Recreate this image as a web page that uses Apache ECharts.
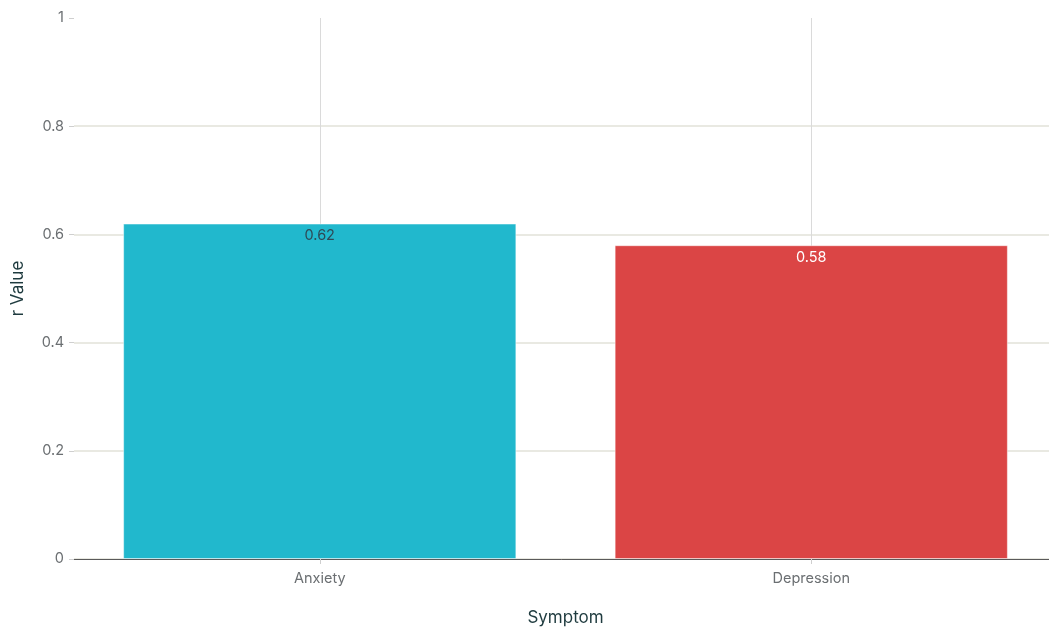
<!DOCTYPE html>
<html>
<head>
<meta charset="utf-8">
<script src="https://cdn.jsdelivr.net/npm/echarts@6/dist/echarts.min.js"></script>
<style>
  html, body { margin: 0; padding: 0; background: #ffffff; }
  #chart { width: 1049px; height: 628px; }
</style>
</head>
<body>
<div id="chart"></div>
<script>
// Correlation of each symptom (r value)
const symptoms = ['Anxiety', 'Depression'];
const rValues = [0.62, 0.58];
const barColors = ['#21B8CD', '#DB4545'];
const labelColors = ['#2E4A57', '#ffffff'];

const chart = echarts.init(document.getElementById('chart'));

chart.setOption({
  animation: false,
  textStyle: { fontFamily: 'Inter, "Noto Sans", sans-serif' },
  grid: { left: 74, right: -8, top: 18, bottom: 69, containLabel: false, outerBoundsMode: 'none' },
  xAxis: {
    type: 'category',
    data: symptoms,
    name: 'Symptom',
    nameLocation: 'middle',
    nameGap: 50,
    nameTextStyle: { color: '#1F3B3F', fontSize: 17 },
    axisLine: { show: true, lineStyle: { color: '#5a5a5a', width: 1 } },
    axisTick: { show: true, alignWithLabel: true, length: 5, lineStyle: { color: '#cfcfcf' } },
    axisLabel: { color: '#6b6f72', fontSize: 14.5, margin: 12 },
    splitLine: { show: true, alignWithLabel: true, lineStyle: { color: '#dadada', width: 1 } }
  },
  yAxis: {
    type: 'value',
    min: 0,
    max: 1,
    interval: 0.2,
    name: 'r Value',
    nameLocation: 'middle',
    nameGap: 48,
    nameTextStyle: { color: '#1F3B3F', fontSize: 17 },
    axisLine: { show: false },
    axisTick: { show: true, length: 5, lineStyle: { color: '#cfcfcf' } },
    axisLabel: { color: '#6b6f72', fontSize: 14.5, margin: 10 },
    splitLine: {
      show: true,
      lineStyle: {
        color: ['#e2e2d8', '#e2e2d8', '#e2e2d8', '#e2e2d8', '#e2e2d8', 'rgba(0,0,0,0)'],
        width: 1.5
      }
    }
  },
  series: [{
    type: 'bar',
    barCategoryGap: '20%',
    data: rValues.map((v, i) => ({
      value: v,
      itemStyle: { color: barColors[i] },
      label: { color: labelColors[i] }
    })),
    itemStyle: { borderColor: 'rgba(255,255,255,0.45)', borderWidth: 1 },
    label: {
      show: true,
      position: 'insideTop',
      distance: 5,
      fontSize: 14.5,
      formatter: p => p.value.toFixed(2)
    }
  }]
});
</script>
</body>
</html>
